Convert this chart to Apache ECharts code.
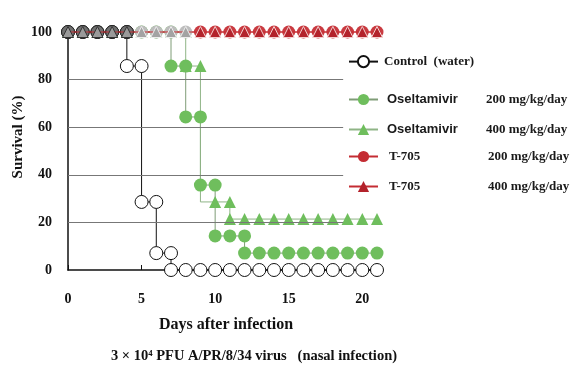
<!DOCTYPE html>
<html><head><meta charset="utf-8">
<script src="https://cdn.jsdelivr.net/npm/echarts@6/dist/echarts.min.js"></script>
<style>html,body{margin:0;padding:0;background:#fff}#c{width:573px;height:373px}</style>
</head><body><div id="c"></div>
<script>
// ---- data ----
const xTicks = [0, 5, 10, 15, 20];
const yTicks = [0, 20, 40, 60, 80, 100];
const gridLevels = [20, 40, 60, 80];
const gridEndDay = 18.7;

const controlDays = [0,1,2,3,4,4,5,5,6,6,7,7,8,9,10,11,12,13,14,15,16,17,18,19,20,21];
const controlSurv = [100,100,100,100,100,85.7,85.7,28.6,28.6,7.1,7.1,0,0,0,0,0,0,0,0,0,0,0,0,0,0,0];

const osel200Days = [0,1,2,3,4,5,6,7,7,8,8,9,9,10,10,11,12,12,13,14,15,16,17,18,19,20,21];
const osel200Surv = [100,100,100,100,100,100,100,100,85.7,85.7,64.3,64.3,35.7,35.7,14.3,14.3,14.3,7.1,7.1,7.1,7.1,7.1,7.1,7.1,7.1,7.1,7.1];

const osel400Days = [0,1,2,3,4,5,6,7,8,8,9,9,10,11,11,12,13,14,15,16,17,18,19,20,21];
const osel400Surv = [100,100,100,100,100,100,100,100,100,85.7,85.7,28.6,28.6,28.6,21.4,21.4,21.4,21.4,21.4,21.4,21.4,21.4,21.4,21.4,21.4];
const osel400HiddenIdx = [11];

const t705Days = [0,1,2,3,4,5,6,7,8,9,10,11,12,13,14,15,16,17,18,19,20,21];
const t705_200Surv = [100,100,100,100,100,100,100,100,100,100,100,100,100,100,100,100,100,100,100,100,100,100];
const t705_400Surv = [100,100,100,100,100,100,100,100,100,100,100,100,100,100,100,100,100,100,100,100,100,100];

const names = ['Control (water)', 'Oseltamivir 200 mg/kg/day', 'Oseltamivir 400 mg/kg/day', 'T-705 200 mg/kg/day', 'T-705 400 mg/kg/day'];

// ---- styling ----
const GREEN = '#6fbe5d', RED = '#c42c33';
const SERIF = '"Liberation Serif","Times New Roman",serif';
const SANS = '"Liberation Sans",Arial,sans-serif';

function pairs(d, v) { return d.map((x, i) => [x, v[i]]); }
function at100(d, v, day) { return d.some((x, i) => x === day && v[i] === 100); }

function topStyle(day, kind) {
  const ctrl = at100(controlDays, controlSurv, day);
  const osel = at100(osel200Days, osel200Surv, day) || at100(osel400Days, osel400Surv, day);
  if (ctrl) return kind === 'c' ? {color:'#707070', borderColor:'#222', borderWidth:1}
                                : {color:'#9a9a9a', borderColor:'#333', borderWidth:1};
  if (osel) return kind === 'c' ? {color:'#bdbdbd', borderColor:'#bdbdbd', borderWidth:0}
                                : {color:'#a3a3a3', borderColor:'#eee', borderWidth:1};
  return kind === 'c' ? {color:'#c93a40', borderWidth:0} : {color:'#b3222b', borderColor:'#f3d0d0', borderWidth:1};
}

const chart = echarts.init(document.getElementById('c'), null, {renderer:'canvas'});

function legend(name, centerY, fmt, rich) {
  return {
    data: [name], left: 348, top: centerY - 7, padding: 0, itemWidth: 29, itemHeight: 14,
    selectedMode: false, formatter: fmt,
    textStyle: {fontFamily: SERIF, fontWeight: 'bold', fontSize: 13, color: '#1a1a1a', rich: rich}
  };
}
const rich = {
  s: {fontFamily: SANS, fontWeight: 'bold', fontSize: 13, color: '#1a1a1a', width: 99, padding: [0,0,0,4]},
  t: {fontFamily: SERIF, fontWeight: 'bold', fontSize: 13, color: '#1a1a1a', width: 99, padding: [0,0,0,6]},
  d: {fontFamily: SERIF, fontWeight: 'bold', fontSize: 13, color: '#1a1a1a'},
  c: {fontFamily: SERIF, fontWeight: 'bold', fontSize: 13, color: '#1a1a1a', padding: [0,0,0,1]}
};

const option = {
  animation: false,
  grid: {left: 68, top: 32, width: 309, height: 238},
  xAxis: {
    type: 'value', min: 0, max: 21, interval: 5,
    axisLine: {lineStyle: {color: '#111', width: 1.5}},
    axisTick: {inside: true, length: 5, lineStyle: {color: '#111'}},
    axisLabel: {margin: 22, showMaxLabel: false, fontFamily: SERIF, fontWeight: 'bold', fontSize: 14, color: '#111',
      formatter: v => xTicks.includes(v) ? String(v) : ''},
    splitLine: {show: false}
  },
  yAxis: {
    type: 'value', min: 0, max: 100, interval: 20,
    axisLine: {show: true, lineStyle: {color: '#111', width: 1.5}},
    axisTick: {show: false},
    axisLabel: {margin: 16, fontFamily: SERIF, fontWeight: 'bold', fontSize: 14, color: '#111',
      formatter: v => yTicks.includes(v) ? String(v) : ''},
    splitLine: {show: false}
  },
  legend: [
    legend(names[0], 62, () => '{c|Control  (water)}', rich),
    legend(names[1], 100, () => '{s|Oseltamivir}{d|200 mg/kg/day}', rich),
    legend(names[2], 130, () => '{s|Oseltamivir}{d|400 mg/kg/day}', rich),
    legend(names[3], 157, () => '{t|T-705}{d|200 mg/kg/day}', rich),
    legend(names[4], 187, () => '{t|T-705}{d|400 mg/kg/day}', rich)
  ],
  graphic: [
    {type: 'text', x: 18, y: 137, rotation: Math.PI / 2,
      style: {text: 'Survival (%)', fontFamily: SERIF, fontWeight: 'bold', fontSize: 15, fill: '#111', textAlign: 'center', textVerticalAlign: 'middle'}},
    {type: 'text', x: 226, y: 325,
      style: {text: 'Days after infection', fontFamily: SERIF, fontWeight: 'bold', fontSize: 16, fill: '#111', textAlign: 'center', textVerticalAlign: 'middle'}},
    {type: 'text', x: 254, y: 356,
      style: {text: '3 × 10⁴ PFU A/PR/8/34 virus   (nasal infection)', fontFamily: SERIF, fontWeight: 'bold', fontSize: 14.5, fill: '#111', textAlign: 'center', textVerticalAlign: 'middle'}}
  ],
  series: [
    {
      name: names[1], type: 'line', data: pairs(osel200Days, osel200Surv), clip: false, z: 3,
      symbol: 'circle', symbolSize: 13, itemStyle: {color: GREEN},
      lineStyle: {color: '#7f9c77', width: 1},
      markLine: {silent: true, symbol: 'none', label: {show: false},
        lineStyle: {color: '#777', width: 1, type: 'solid'},
        data: gridLevels.map(v => [{coord: [0, v]}, {coord: [gridEndDay, v]}])}
    },
    {
      name: names[2], type: 'line', clip: false, z: 3,
      data: pairs(osel400Days, osel400Surv).map((p, i) => osel400HiddenIdx.includes(i) ? {value: p, symbolSize: 0} : p),
      symbol: 'triangle', symbolSize: 12, itemStyle: {color: GREEN},
      lineStyle: {color: '#8fb486', width: 1}
    },
    {
      name: names[0], type: 'line', data: pairs(controlDays, controlSurv), clip: false, z: 4,
      symbol: 'circle', symbolSize: 13, itemStyle: {color: '#fff', borderColor: '#111', borderWidth: 1},
      lineStyle: {color: '#111', width: 1}
    },
    {
      name: names[3], type: 'line', clip: false, z: 5,
      data: t705Days.map((d, i) => ({value: [d, t705_200Surv[i]], itemStyle: topStyle(d, 'c')})),
      symbol: 'circle', symbolSize: 13, itemStyle: {color: RED},
      lineStyle: {color: RED, width: 1}
    },
    {
      name: names[4], type: 'line', clip: false, z: 6,
      data: t705Days.map((d, i) => ({value: [d, t705_400Surv[i]], itemStyle: topStyle(d, 't')})),
      symbol: 'triangle', symbolSize: 11, itemStyle: {color: '#b3222b'},
      lineStyle: {color: RED, width: 1}
    }
  ]
};
chart.setOption(option);
</script></body></html>
